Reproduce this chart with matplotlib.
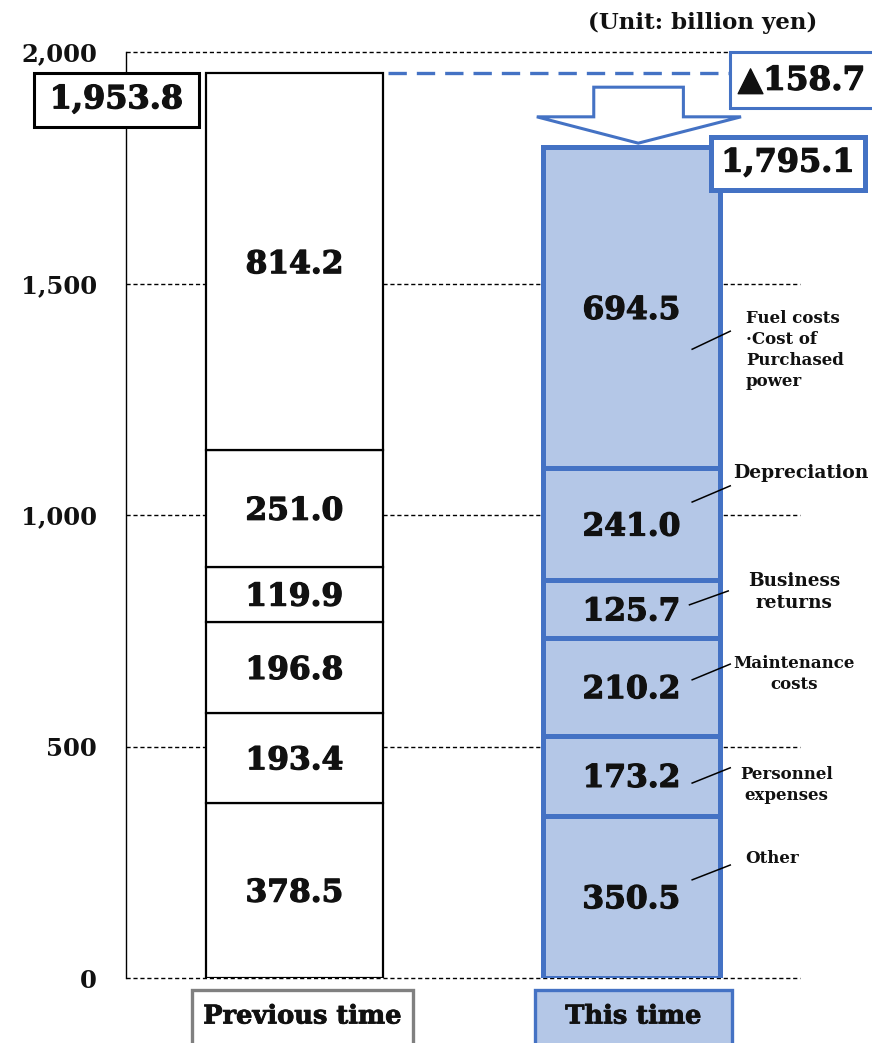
import matplotlib.pyplot as plt
from matplotlib.patches import Rectangle, Polygon
import matplotlib.patheffects as pe
import numpy as np

# data
periods = ["Previous time", "This time"]
items = ["Other", "Personnel\nexpenses", "Maintenance\ncosts", "Business\nreturns",
         "Depreciation", "Fuel costs\n·Cost of\nPurchased\npower"]
prev_vals = [378.5, 193.4, 196.8, 119.9, 251.0, 814.2]
this_vals = [350.5, 173.2, 210.2, 125.7, 241.0, 694.5]
prev_total = 1953.8
this_total = 1795.1
diff_label = "▲158.7"
yticks = [0, 500, 1000, 1500, 2000]
ytick_labels = ["0", "500", "1,000", "1,500", "2,000"]

BLUE = "#4472C4"
LIGHT = "#B4C7E7"
FONT = ["DejaVu Serif", "DejaVu Sans"]
heavy = [pe.withStroke(linewidth=0.9, foreground="#111111")]
semi = [pe.withStroke(linewidth=0.6, foreground="#111111")]

plt.rcParams['font.family'] = FONT
plt.rcParams['font.weight'] = 'bold'
plt.rcParams['text.color'] = '#111111'

fig = plt.figure(figsize=(8.72, 10.43), dpi=100)
ax = fig.add_axes([126/872, 65/1043, 674/872, 926/1043])
ax.set_xlim(-0.5, 1.5)
ax.set_ylim(0, 2000)

x = np.arange(2)
w = 0.527

# grid
for t in yticks:
    ax.axhline(t, color="black", lw=1.0, ls=(0, (3, 2)), zorder=0, clip_on=False)

# bars
bottom = 0
for v in prev_vals:
    ax.bar(x[0], v, w, bottom=bottom, facecolor="white", edgecolor="black", lw=1.6, zorder=2)
    ax.text(x[0], bottom + v / 2 - 6, f"{v:.1f}", ha="center", va="center", fontsize=22.5,
            fontweight="bold", zorder=5, path_effects=heavy)
    bottom += v
bottom = 0
for v in this_vals:
    ax.bar(x[1], v, w, bottom=bottom, facecolor=LIGHT, edgecolor=BLUE, lw=3.6, zorder=2)
    ax.text(x[1], bottom + v / 2 - 6, f"{v:.1f}", ha="center", va="center", fontsize=22.5,
            fontweight="bold", zorder=5, path_effects=heavy)
    bottom += v

# item labels with leader lines
label_pos = [(1.417, 276), (1.459, 458), (1.482, 698), (1.482, 877), (1.503, 1110), (1.340, 1443)]
label_ha = ["center", "center", "center", "center", "center", "left"]
label_size = [12, 12, 12, 13.3, 13.5, 12]
lead_start = [(1.18, 212), (1.18, 421), (1.18, 644), (1.172, 806), (1.18, 1028), (1.18, 1358)]
lead_end = [(1.293, 244), (1.293, 454), (1.293, 678), (1.287, 836), (1.293, 1063), (1.293, 1397)]
for name, (lx, ly), ha, fs, s, e in zip(items, label_pos, label_ha, label_size, lead_start, lead_end):
    ax.plot([s[0], e[0]], [s[1], e[1]], color="black", lw=1.1, zorder=6, clip_on=False)
    ax.text(lx, ly, name, ha=ha, va="top", fontsize=fs, fontweight="bold",
            linespacing=1.3, clip_on=False)

# total boxes
ax.add_patch(Rectangle((-0.772, prev_total - 115), 0.488, 115, facecolor="white",
                       edgecolor="black", lw=2.2, zorder=7, clip_on=False))
ax.text(-0.528, prev_total - 57, f"{prev_total:,.1f}", ha="center", va="center",
        fontsize=23, fontweight="bold", zorder=8, clip_on=False, path_effects=heavy)

ax.add_patch(Rectangle((1.237, this_total - 93), 0.455, 115, facecolor="white",
                       edgecolor=BLUE, lw=3.6, zorder=7, clip_on=False))
ax.text(1.465, this_total - 35, f"{this_total:,.1f}", ha="center", va="center",
        fontsize=23, fontweight="bold", zorder=8, clip_on=False, path_effects=heavy)

# difference
ax.plot([x[0] + w / 2 + 0.015, 1.293], [prev_total, prev_total], color=BLUE, lw=2.4,
        ls=(0, (5.5, 3)), zorder=3, clip_on=False)
ax.add_patch(Rectangle((1.293, 1879), 0.45, 121, facecolor="white",
                       edgecolor=BLUE, lw=2.2, zorder=7, clip_on=False))
ax.text(1.505, 1939, diff_label, ha="center", va="center", fontsize=23.5,
        fontweight="bold", zorder=8, clip_on=False, path_effects=heavy)

# block arrow
ax.add_patch(Polygon([(0.888, 1924), (1.154, 1924), (1.154, 1860), (1.325, 1860),
                      (1.02, this_total + 8), (0.719, 1860), (0.888, 1860)],
                     closed=True, facecolor="white", edgecolor=BLUE, lw=2.2, zorder=4,
                     clip_on=False))

ax.text(1.21, 2062, "(Unit: billion yen)", ha="center", va="center", fontsize=16.5,
        fontweight="bold", clip_on=False)

# period boxes
ax.add_patch(Rectangle((-0.305, -160), 0.657, 134, facecolor="white", edgecolor="#808080",
                       lw=2.4, zorder=7, clip_on=False))
ax.add_patch(Rectangle((0.713, -160), 0.586, 134, facecolor=LIGHT, edgecolor=BLUE,
                       lw=2.4, zorder=7, clip_on=False))
for xi, p in zip([0.024, 1.006], periods):
    ax.text(xi, -82, p, ha="center", va="center", fontsize=18.5, fontweight="bold",
            zorder=8, clip_on=False, path_effects=semi)

# axes styling
ax.set_yticks(yticks)
ax.set_yticklabels(ytick_labels, fontsize=17.5, fontweight="bold")
ax.tick_params(axis="y", length=0, pad=21, labelcolor="#111111")
ax.set_xticks([])
for sp in ["top", "right", "bottom"]:
    ax.spines[sp].set_visible(False)
ax.spines["left"].set_linewidth(1.0)

fig.savefig("out.png", dpi=100)
